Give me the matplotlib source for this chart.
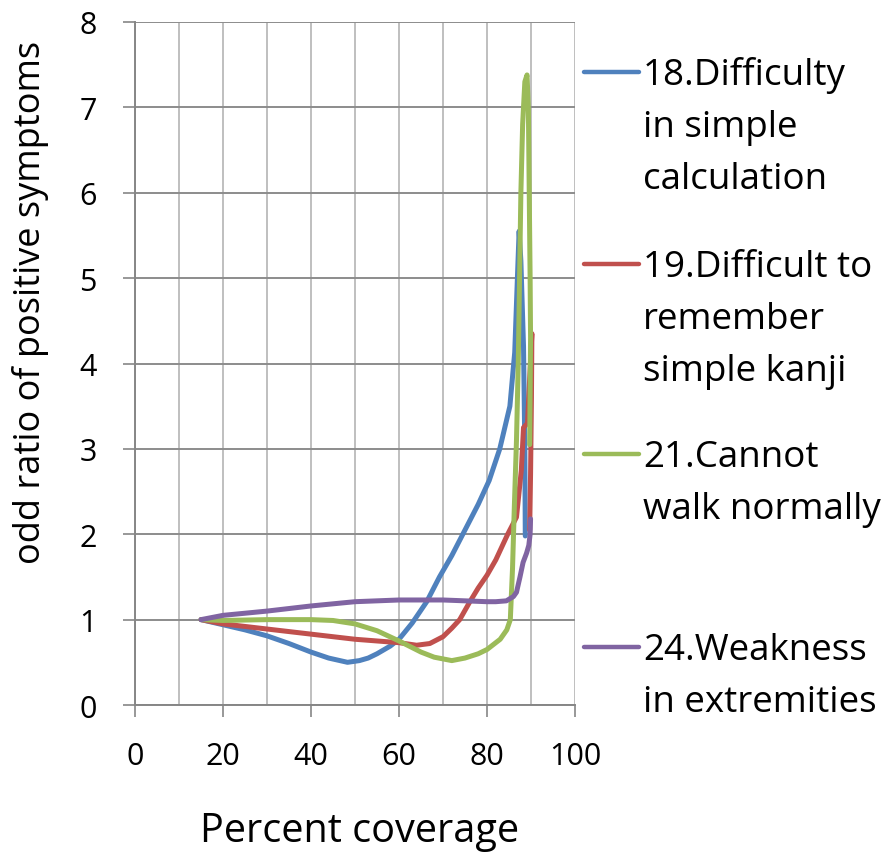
import matplotlib
matplotlib.use("Agg")
import matplotlib.pyplot as plt
from matplotlib.lines import Line2D

plt.rcParams['font.family'] = ['Open Sans', 'DejaVu Sans']

# ---- data (percent coverage, odds ratio) ----
labels = ["18.Difficulty\nin simple\ncalculation",
          "19.Difficult to\nremember\nsimple kanji",
          "21.Cannot\nwalk normally",
          "24.Weakness\nin extremities"]
colors = ["#4F81BD", "#C0504D", "#9BBB59", "#8064A2"]

cov_18 = [15, 17.5, 20, 25, 30, 35, 40, 44, 48.3, 51, 53, 55, 58, 60, 63, 66.3, 69.2, 72,
          74.5, 78, 80.5, 82.9, 85.2, 86.3, 87.05, 87.3, 87.7, 88.3, 88.6, 88.7]
or_18 = [1.0, 0.97, 0.94, 0.88, 0.81, 0.72, 0.62, 0.55, 0.50, 0.52, 0.55, 0.60, 0.69, 0.77,
         0.96, 1.21, 1.5, 1.75, 2.0, 2.35, 2.63, 3.0, 3.5, 4.13, 5.2, 5.55, 5.2, 4.2, 3.0, 1.98]

cov_19 = [15, 20, 30, 40, 50, 60, 64, 67, 70, 72, 73.8, 76, 78, 80, 82, 84.7, 86.7, 87.8,
          88.3, 89.2, 90.2, 90.1, 89.9, 89.7]
or_19 = [1.0, 0.95, 0.89, 0.83, 0.77, 0.73, 0.70, 0.72, 0.80, 0.90, 1.0, 1.2, 1.37, 1.52,
         1.7, 2.0, 2.2, 2.75, 3.25, 3.3, 4.35, 3.6, 2.7, 2.05]

cov_21 = [15, 20, 30, 40, 45, 50, 55, 60, 65, 68, 70, 72, 75, 78, 80, 83, 84.5, 85.3, 85.8,
          86.2, 86.7, 87.1, 87.4, 87.7, 88.1, 88.6, 89.1, 89.4, 89.6, 89.8, 89.9, 89.7]
or_21 = [1.0, 0.99, 1.0, 1.0, 0.99, 0.95, 0.87, 0.75, 0.62, 0.56, 0.54, 0.52, 0.55, 0.60,
         0.65, 0.77, 0.88, 1.0, 1.6, 2.3, 3.1, 4.0, 5.0, 6.0, 6.8, 7.3, 7.38, 7.0, 6.0, 5.0,
         4.3, 3.05]

cov_24 = [15, 20, 30, 40, 50, 60, 70, 75, 80, 82, 84.4, 86.0, 86.7, 87.5, 88.2, 89.0, 89.5,
          89.8, 89.9]
or_24 = [1.0, 1.05, 1.10, 1.16, 1.21, 1.23, 1.23, 1.22, 1.21, 1.21, 1.22, 1.27, 1.32, 1.5,
         1.67, 1.78, 1.87, 2.0, 2.18]

series_x = [cov_18, cov_19, cov_21, cov_24]
series_y = [or_18, or_19, or_21, or_24]

x_ticks = [0, 20, 40, 60, 80, 100]
y_ticks = [0, 1, 2, 3, 4, 5, 6, 7, 8]
x_title = "Percent coverage"
y_title = "odd ratio of positive symptoms"

W, H = 888, 853
fig = plt.figure(figsize=(W / 100, H / 100), dpi=100)
fig.patch.set_facecolor("white")


def fx(px):
    return px / W


def fy(py):
    return 1 - py / H


ax = fig.add_axes([fx(135), fy(706), (575 - 135) / W, (706 - 23) / H])
ax.set_xlim(0, 100)
ax.set_ylim(0, 8)

ax.set_xticks(x_ticks)
ax.set_xticks(range(10, 100, 20), minor=True)
ax.set_yticks(y_ticks)
ax.tick_params(axis='both', which='major', direction='out', length=8.6, width=1.2,
               color="#868686", labelsize=22, pad=17)
ax.tick_params(axis='x', which='minor', length=0)
ax.tick_params(axis='y', pad=19)

ax.grid(axis='x', which='both', color="#BFBFBF", lw=1.4)
ax.grid(axis='y', which='major', color="#8C8C8C", lw=1.4)
ax.set_axisbelow(True)
for s in ['top', 'right']:
    ax.spines[s].set_visible(False)
for s in ['left', 'bottom']:
    ax.spines[s].set_color("#868686")
    ax.spines[s].set_linewidth(1.4)

for xs, ys, c in zip(series_x, series_y, colors):
    ax.plot(xs, ys, color=c, lw=3.6, solid_joinstyle='round', solid_capstyle='round',
            clip_on=False)

fig.text(fx(31), fy(302), y_title, rotation=90, ha='center', va='center', fontsize=26)
fig.text(fx(360), fy(832), x_title, ha='center', va='center', fontsize=28.5)

# legend (manual, Excel-like, no frame)
entry_y = [73, 265, 455, 648]
line_gap = 52
for lab, c, ey in zip(labels, colors, entry_y):
    fig.add_artist(Line2D([fx(584), fx(639)], [fy(ey), fy(ey)], color=c, lw=3.2,
                          solid_capstyle='round'))
    for j, line in enumerate(lab.split("\n")):
        fig.text(fx(643), fy(ey + 12 + j * line_gap), line, ha='left', va='baseline',
                 fontsize=26.5)

fig.savefig("out.png", dpi=100)
